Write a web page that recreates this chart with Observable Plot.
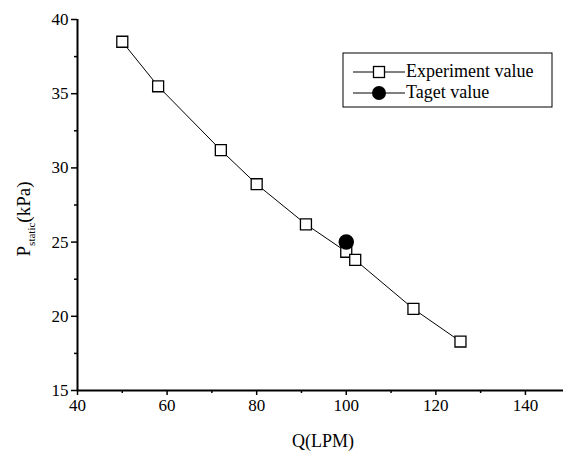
<!DOCTYPE html>
<html><head><meta charset="utf-8">
<script src="https://cdn.jsdelivr.net/npm/d3@7"></script>
<script src="https://cdn.jsdelivr.net/npm/@observablehq/plot@0.6"></script>
<style>
body{margin:0;background:#fff}
svg text, svg tspan { font-family: "Liberation Serif", "Times New Roman", serif !important; }
</style>
</head><body><div id="chart"></div>
<script>
const flowQ = [50, 58, 72, 80, 91, 100, 102, 115, 125.5];
const pressure = [38.5, 35.5, 31.2, 28.9, 26.2, 24.35, 23.8, 20.5, 18.3];
const targetQ = [100];
const targetP = [25.0];
const xTicks = [40, 60, 80, 100, 120, 140];
const xMinor = [50, 70, 90, 110, 130];
const yTicks = [15, 20, 25, 30, 35, 40];
const yMinor = [17.5, 22.5, 27.5, 32.5, 37.5];
const seriesNames = ["Experiment value", "Taget value"];

const exp = flowQ.map((q, i) => ({q, p: pressure[i]}));
const tgt = targetQ.map((q, i) => ({q, p: targetP[i]}));
const serif = "Liberation Serif, Times New Roman, serif";

const plot = Plot.plot({
  width: 563, height: 454,
  marginLeft: 77, marginRight: 0, marginTop: 19, marginBottom: 64,
  style: {fontSize: "17px", fontFamily: serif, color: "#000", background: "#fff"},
  x: {domain: [40, 148.5]},
  y: {domain: [15, 40]},
  marks: [
    Plot.axisX({ticks: xTicks, tickSize: 5, tickPadding: 3, label: null, strokeWidth: 1.5, fontSize: 17, fontFamily: serif}),
    Plot.axisX({ticks: xMinor, tickSize: 3, tickFormat: () => "", label: null, strokeWidth: 1.5}),
    Plot.axisY({ticks: yTicks, tickSize: 6, tickPadding: 3, label: null, strokeWidth: 1.5, fontSize: 17, fontFamily: serif}),
    Plot.axisY({ticks: yMinor, tickSize: 3, tickFormat: () => "", label: null, strokeWidth: 1.5}),
    Plot.ruleX([40], {stroke: "#000", strokeWidth: 2}),
    Plot.ruleY([15], {stroke: "#000", strokeWidth: 2}),
    Plot.line(exp, {x: "q", y: "p", stroke: "#000", strokeWidth: 1}),
    Plot.dot(exp, {x: "q", y: "p", symbol: "square", r: 6.2, fill: "#fff", stroke: "#000", strokeWidth: 1.3}),
    Plot.dot(tgt, {x: "q", y: "p", symbol: "circle", r: 7, fill: "#000", stroke: "#000"})
  ]
});
document.getElementById("chart").appendChild(plot);

const svg = d3.select(plot);
svg.selectAll("text").style("font-size", "17px").style("font-family", serif);
// x label
svg.append("text").attr("x", 323).attr("y", 447).attr("text-anchor", "middle")
  .style("font-size", "18px").attr("fill", "#000").text("Q(LPM)");
// y label with subscript
const yl = svg.append("text").attr("transform", "translate(30,219) rotate(-90)")
  .attr("text-anchor", "middle").style("font-size", "19px").attr("fill", "#000");
yl.append("tspan").text("P");
yl.append("tspan").style("font-size", "11px").attr("dy", 5).text("static");
yl.append("tspan").attr("dy", -5).text("(kPa)");

// legend
const lg = svg.append("g");
lg.append("rect").attr("x", 343).attr("y", 53).attr("width", 209).attr("height", 54)
  .attr("fill", "#fff").attr("stroke", "#000").attr("stroke-width", 1);
const ly = [72, 93];
ly.forEach((y, i) => {
  lg.append("line").attr("x1", 353).attr("x2", 405).attr("y1", y).attr("y2", y)
    .attr("stroke", "#000").attr("stroke-width", 1);
  if (i === 0) {
    lg.append("rect").attr("x", 373.5).attr("y", y - 5.5).attr("width", 11).attr("height", 11)
      .attr("fill", "#fff").attr("stroke", "#000").attr("stroke-width", 1.3);
  } else {
    lg.append("circle").attr("cx", 379).attr("cy", y).attr("r", 7).attr("fill", "#000");
  }
  lg.append("text").attr("x", 406).attr("y", y + 5).attr("text-anchor", "start")
    .style("font-size", "18px").attr("fill", "#000").text(seriesNames[i]);
});
</script></body></html>
